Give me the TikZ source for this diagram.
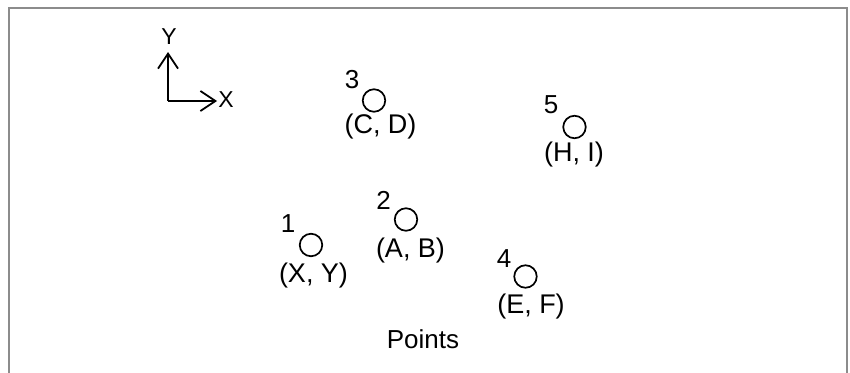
\documentclass[tikz,border=0pt]{standalone}
\usepackage{fontspec}
\setmainfont{Liberation Sans}
\usetikzlibrary{arrows.meta}
\begin{document}
\begin{tikzpicture}[x=1pt,y=-1pt,
  pt/.style={circle,draw,line width=1.7pt,minimum size=22.5pt,inner sep=0pt},
  coordlbl/.style={font=\fontsize{27}{27}\selectfont,inner sep=0pt},
  numlbl/.style={font=\fontsize{26}{26}\selectfont,inner sep=0pt},
  axislbl/.style={font=\fontsize{23}{23}\selectfont,inner sep=0pt},
  axis/.style={line width=1.8pt,-{Straight Barb[length=15pt,width=20pt,line width=1.8pt]}}]
\useasboundingbox (0,0) rectangle (850,372);
\draw[line width=2pt,color=black!45] (9,380) -- (9,8) -- (847,8) -- (847,380);
% axes
\coordinate (o) at (168,101);
\coordinate (ytip) at (168,52);
\coordinate (xtip) at (217,101);
\draw[axis] (o) -- (ytip);
\draw[axis] (o) -- (xtip);
\node[axislbl] (ylbl) at (169,37) {Y};
\node[axislbl] (xlbl) at (226,100) {X};
% points
\node[pt] (c1) at (311,245) {};
\node[pt] (c2) at (406,219.5) {};
\node[pt] (c3) at (374,100.5) {};
\node[pt] (c4) at (525.5,276.5) {};
\node[pt] (c5) at (574.5,127) {};
\node[numlbl] (n1) at (288,223.5) {1};
\node[numlbl] (n2) at (383.5,200) {2};
\node[numlbl] (n3) at (352,80) {3};
\node[numlbl] (n4) at (504,258.5) {4};
\node[numlbl] (n5) at (551,105) {5};
\node[coordlbl] (l1) at (313.5,275.5) {(X, Y)};
\node[coordlbl] (l2) at (410.5,251) {(A, B)};
\node[coordlbl] (l3) at (380.5,126.5) {(C, D)};
\node[coordlbl] (l4) at (531,307) {(E, F)};
\node[coordlbl] (l5) at (574,155) {(H, I)};
\node[font=\fontsize{26}{26}\selectfont,inner sep=0pt] (title) at (423,339) {Points};
\end{tikzpicture}
\end{document}
